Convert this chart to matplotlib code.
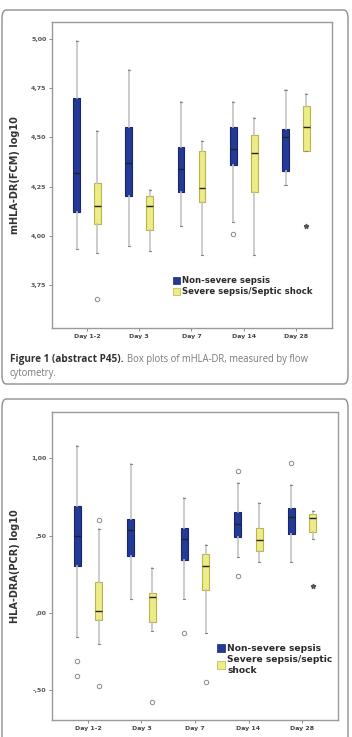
import matplotlib
matplotlib.use('Agg')
import matplotlib.pyplot as plt
from matplotlib.patches import Patch, FancyBboxPatch

# ---- data ----
days = ['Day 1-2', 'Day 3', 'Day 7', 'Day 14', 'Day 28']

# each row: whislo, q1, med, q3, whishi
fcm_nonsevere = [[3.93, 4.12, 4.32, 4.70, 4.99],
                 [3.95, 4.20, 4.37, 4.55, 4.84],
                 [4.05, 4.22, 4.34, 4.45, 4.68],
                 [4.07, 4.36, 4.44, 4.55, 4.68],
                 [4.26, 4.33, 4.50, 4.54, 4.74]]
fcm_severe = [[3.91, 4.06, 4.15, 4.27, 4.53],
              [3.92, 4.03, 4.15, 4.20, 4.23],
              [3.90, 4.17, 4.24, 4.43, 4.48],
              [3.90, 4.22, 4.42, 4.51, 4.60],
              [4.43, 4.43, 4.55, 4.66, 4.72]]
fcm_nonsevere_out = [[], [], [], [4.01], []]
fcm_severe_out = [[3.68], [], [], [], []]
fcm_severe_extreme = [[], [], [], [], [4.05]]
fcm_ticks = [3.75, 4.00, 4.25, 4.50, 4.75, 5.00]
fcm_ticklabels = ['3,75', '4,00', '4,25', '4,50', '4,75', '5,00']

pcr_nonsevere = [[-0.155, 0.30, 0.50, 0.69, 1.08],
                 [0.09, 0.37, 0.535, 0.61, 0.96],
                 [0.09, 0.34, 0.48, 0.55, 0.74],
                 [0.36, 0.49, 0.575, 0.65, 0.84],
                 [0.33, 0.51, 0.62, 0.68, 0.83]]
pcr_severe = [[-0.20, -0.05, 0.01, 0.20, 0.54],
              [-0.12, -0.06, 0.10, 0.13, 0.29],
              [-0.13, 0.15, 0.30, 0.38, 0.44],
              [0.33, 0.40, 0.47, 0.55, 0.71],
              [0.48, 0.525, 0.615, 0.64, 0.66]]
pcr_nonsevere_out = [[-0.31, -0.41], [], [-0.13], [0.92, 0.24], [0.97]]
pcr_severe_out = [[0.60, -0.475], [-0.58], [-0.45], [], []]
pcr_severe_extreme = [[], [], [], [], [0.17]]
pcr_ticks = [-0.5, 0.0, 0.5, 1.0]
pcr_ticklabels = ['-,50', ',00', ',50', '1,00']

labels = ['Non-severe sepsis', 'Severe sepsis/Septic shock']

BLUE = '#233a96'
BLUE_EDGE = '#16266e'
YELLOW = '#eeec86'
YELLOW_EDGE = '#b8b44e'
WHISK = '#c4c4c4'
FRAME = '#9a9a9a'


def stats_list(rows, outs):
    out = []
    for r, f in zip(rows, outs):
        out.append(dict(whislo=r[0], q1=r[1], med=r[2], q3=r[3], whishi=r[4], fliers=f))
    return out


def draw_panel(ax, nonsev, sev, nonsev_out, sev_out, sev_ext, ticks, ticklabels,
               ylim, xlim, ylabel, legend_labels, legend_pos, legend_size):
    pos = list(range(len(days)))
    for rows, outs, off, fc, ec in [(nonsev, nonsev_out, -0.2, BLUE, BLUE_EDGE),
                                    (sev, sev_out, 0.2, YELLOW, YELLOW_EDGE)]:
        ax.bxp(stats_list(rows, outs), positions=[p + off for p in pos], widths=0.13,
               patch_artist=True, showcaps=True, capwidths=0.04,
               boxprops=dict(facecolor=fc, edgecolor=ec, linewidth=0.8),
               medianprops=dict(color='#222222', linewidth=1.0),
               whiskerprops=dict(color=WHISK, linewidth=1.2),
               capprops=dict(color='#888888', linewidth=0.8),
               flierprops=dict(marker='o', markersize=3.2, markerfacecolor='white',
                               markeredgecolor='#8a8a8a', markeredgewidth=0.7))
    for i, vals in enumerate(sev_ext):
        for v in vals:
            ax.plot(i + 0.2, v, marker='*', markersize=3.5, color='#555555', linestyle='none')

    ax.set_xlim(*xlim)
    ax.set_ylim(*ylim)
    ax.set_xticks(pos)
    ax.set_xticklabels(days, fontsize=4.5, fontweight='bold', color='#444444')
    ax.set_yticks(ticks)
    ax.set_yticklabels(ticklabels, fontsize=4.5, fontweight='bold', color='#555555')
    ax.tick_params(length=2, width=0.6, color='#777777', pad=2)
    for s in ax.spines.values():
        s.set_color(FRAME)
        s.set_linewidth(1.0)
    ax.set_ylabel(ylabel, fontsize=7, fontweight='bold', color='#333333', labelpad=8)

    handles = [Patch(facecolor=BLUE, edgecolor=BLUE_EDGE, linewidth=0.5),
               Patch(facecolor=YELLOW, edgecolor=YELLOW_EDGE, linewidth=0.5)]
    leg = ax.legend(handles, legend_labels, loc='upper left', bbox_to_anchor=legend_pos,
                    frameon=False, prop=dict(size=legend_size, weight='bold'),
                    handlelength=0.8, handleheight=1.0, handletextpad=0.3,
                    labelspacing=0.25, borderaxespad=0)
    for t in leg.get_texts():
        t.set_color('#2a2a2a')


fig = plt.figure(figsize=(3.52, 7.37), dpi=100)
W, H = 352.0, 737.0

# card outlines
for (y0, y1) in [(10, 384), (399, 745)]:
    card = FancyBboxPatch((2 / W, 1 - y1 / H), 346 / W, (y1 - y0) / H,
                          boxstyle='round,pad=0,rounding_size=0.012',
                          transform=fig.transFigure, facecolor='none',
                          edgecolor='#8f8f8f', linewidth=1.0, clip_on=False, zorder=-5)
    fig.patches.append(card)

ax1 = fig.add_axes([52 / W, 1 - 328 / H, 280 / W, 306 / H])
draw_panel(ax1, fcm_nonsevere, fcm_severe, fcm_nonsevere_out, fcm_severe_out,
           fcm_severe_extreme, fcm_ticks, fcm_ticklabels,
           (3.531, 5.086), (-0.67, 4.69), 'mHLA-DR(FCM) log10',
           labels, (0.42, 0.18), 6.1)

ax2 = fig.add_axes([52 / W, 1 - 720 / H, 286 / W, 308 / H])
draw_panel(ax2, pcr_nonsevere, pcr_severe, pcr_nonsevere_out, pcr_severe_out,
           pcr_severe_extreme, pcr_ticks, pcr_ticklabels,
           (-0.695, 1.30), (-0.67, 4.67), 'HLA-DRA(PCR) log10',
           [labels[0], 'Severe sepsis/septic\nshock'], (0.565, 0.26), 6.6)

# caption
renderer = fig.canvas.get_renderer()
t1 = fig.text(10 / W, 1 - 362 / H, 'Figure 1 (abstract P45).', fontsize=7.2,
              fontweight='bold', color='#333333', va='baseline', family='Open Sans')
x_end = t1.get_window_extent(renderer).x1
fig.text((x_end + 3) / W, 1 - 362 / H, 'Box plots of mHLA-DR, measured by flow',
         fontsize=6.85, color='#7a7a7a', va='baseline', family='Open Sans')
fig.text(10 / W, 1 - 376 / H, 'cytometry.', fontsize=6.85, color='#7a7a7a',
         va='baseline', family='Open Sans')

fig.savefig('out.png', dpi=100)
